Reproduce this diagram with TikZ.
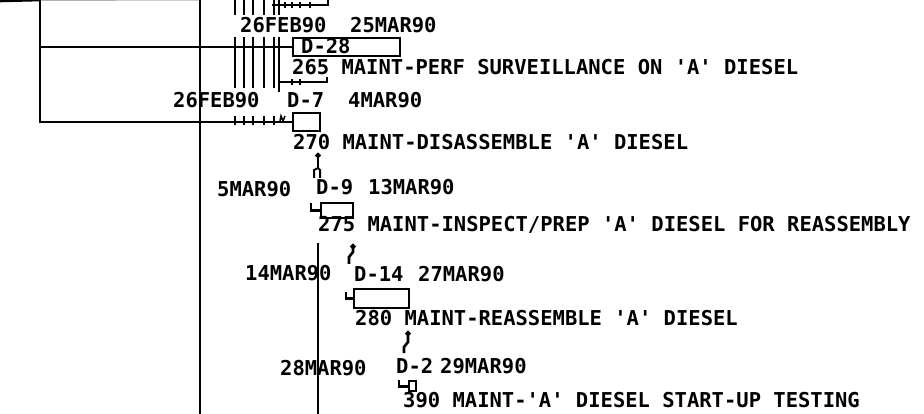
\documentclass[tikz,border=0pt]{standalone}
\usepackage{fontspec}
\newfontfamily\plotfont{DejaVu Sans Mono}
\usetikzlibrary{arrows.meta}

\begin{document}
\begin{tikzpicture}[
    x=1pt, y=-1pt,
    every node/.style={font=\plotfont\bfseries\fontsize{20.5}{24}\selectfont, inner sep=0pt},
    lbl/.style={anchor=base west},
    actbox/.style={draw, line width=2.4pt, anchor=north west},
    link/.style={line width=2.6pt},
    feed/.style={line width=2pt},
    tick/.style={line width=1.5pt}
]
    \useasboundingbox (0,0) rectangle (924,414);

    % activity boxes
    \node[actbox, minimum width=107pt, minimum height=18pt] (a265) at (292,37) {};
    \node[actbox, minimum width=27pt, minimum height=18pt] (a270) at (292,112) {};
    \node[actbox, minimum width=32pt, minimum height=15pt] (a275) at (320,202) {};
    \node[actbox, minimum width=55pt, minimum height=19pt] (a280) at (353,288) {};
    \node[actbox, minimum width=7pt, minimum height=10pt] (a390) at (408,380) {};

    % dates, durations and titles
    \node[lbl] (e265) at (240,33) {26FEB90};
    \node[lbl] (l265) at (350,33) {25MAR90};
    \node[lbl] (d265) at (301,54) {D-28};
    \node[lbl] (t265) at (292,75) {265 MAINT-PERF SURVEILLANCE ON 'A' DIESEL};

    \node[lbl] (e270) at (173,108) {26FEB90};
    \node[lbl] (d270) at (287,108) {D-7};
    \node[lbl] (l270) at (348,108) {4MAR90};
    \node[lbl] (t270) at (293,150) {270 MAINT-DISASSEMBLE 'A' DIESEL};

    \node[lbl] (e275) at (217,197) {5MAR90};
    \node[lbl] (d275) at (316,195) {D-9};
    \node[lbl] (l275) at (368,195) {13MAR90};
    \node[lbl] (t275) at (318,232) {275 MAINT-INSPECT/PREP 'A' DIESEL FOR REASSEMBLY};

    \node[lbl] (e280) at (245,280) {14MAR90};
    \node[lbl] (d280) at (354,281) {D-14};
    \node[lbl] (l280) at (418,281) {27MAR90};
    \node[lbl] (t280) at (355,325) {280 MAINT-REASSEMBLE 'A' DIESEL};

    \node[lbl] (e390) at (280,375) {28MAR90};
    \node[lbl] (d390) at (396,373) {D-2};
    \node[lbl] (l390) at (440,373) {29MAR90};
    \node[lbl] (t390) at (403,407) {390 MAINT-'A' DIESEL START-UP TESTING};

    % frame lines
    \coordinate (frame) at (40,0);
    \coordinate (spine) at (200,0);
    \coordinate (spine end) at (200,414);
    \coordinate (drop) at (318,243);
    \coordinate (drop end) at (318,414);
    \draw[gray!60, line width=1pt] (0,0.6) -- (spine);
    \draw[link] (0,1) -- (frame);
    \draw[link] (frame) |- (a270.west);
    \draw[link] (a265.west) -- (a265.west -| frame);
    \draw[link] (spine) -- (spine end);
    \draw[link] (drop) -- (drop end);

    % incoming bundle
    \foreach \x in {235,244,253,264,274} {
        \draw[feed] (\x,0) -- (\x,15);
        \draw[feed] (\x,37) -- (\x,88);
        \draw[tick] (\x,116) -- (\x,125);
    }
    \draw[line width=2.8pt] (279,0) -- (279,15) (279,37) -- (279,92);
    \draw[feed] (272,5) -- (328,5) -- (328,0);
    \foreach \x in {285,292,300,310} \draw[tick] (\x,2) -- (\x,8);
    \draw[feed] (279,82) -- (327,82) -- (327,77);
    \foreach \x in {292,300} \draw[tick] (\x,79) -- (\x,85);
    \draw[tick] (280,121) -- (281,116) -- (283,121) -- (285,116);

    % activity to activity
    \coordinate (o270) at (318,153);
    \draw[link, {Circle[length=5pt]}-] (o270) -- ++(0,15) coordinate (f270);
    \draw[feed] (f270) -- ++(-4,2) -- ++(0,8) (f270) -- ++(2,2) -- ++(0,8);
    \draw[link] (a275.west) -| ++(-9,-8);

    \coordinate (o275) at (353,244);
    \draw[link, {Circle[length=5pt]}-] (o275) -- ++(0,8) -- ++(-4,5) -- ++(0,7);
    \draw[link] (a280.west) -| ++(-7,-7);

    \coordinate (o280) at (408,331);
    \draw[link, {Circle[length=5pt]}-] (o280) -- ++(0,11) -- ++(-4,5) -- ++(0,6);
    \draw[link] (a390.west) -| ++(-9,-6);
\end{tikzpicture}
\end{document}
